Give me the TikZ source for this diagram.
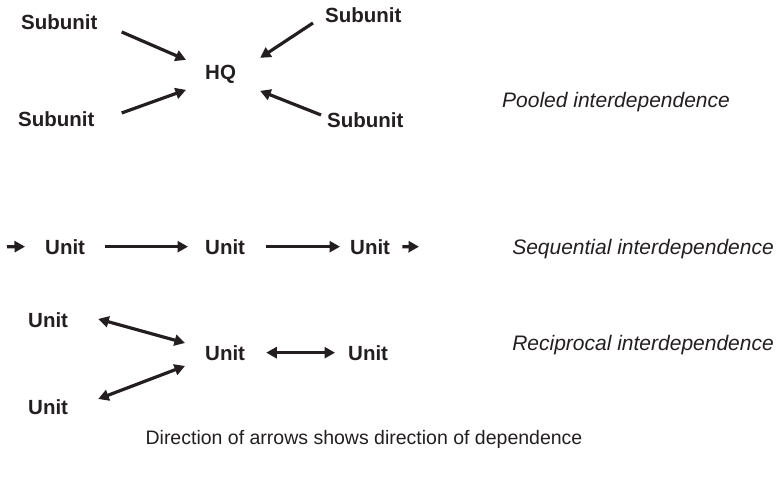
\documentclass[tikz,border=0pt]{standalone}
\usepackage{fontspec}
\setmainfont{Liberation Sans}
\usetikzlibrary{arrows.meta}
\definecolor{ink}{HTML}{231F20}
\begin{document}
\begin{tikzpicture}[x=1pt,y=-1pt,
  lbl/.style={font=\fontsize{20.5}{24}\selectfont\bfseries, text=ink, inner sep=0pt, anchor=base west},
  kind/.style={font=\fontsize{21}{25}\selectfont\itshape, text=ink, inner sep=0pt},
  tip/.tip={Triangle[length=10.5pt,width=11pt]},
  arr/.style={draw=ink, line width=3.2pt, -tip},
  darr/.style={draw=ink, line width=3.2pt, tip-tip}]
\useasboundingbox[fill=white] (0,0) rectangle (778,481);

% pooled interdependence
\node[lbl] (s1) at (21,30) {Subunit};
\node[lbl] (s2) at (325,23) {Subunit};
\node[lbl] (s3) at (18,127) {Subunit};
\node[lbl] (s4) at (327,128) {Subunit};
\node[lbl] (hq) at (205,80) {HQ};
\draw[arr] ([shift={(24,9.3)}]s1.east) -- ([shift={(-19,-15)}]hq.west);
\draw[arr] ([shift={(-12,7.3)}]s2.west) -- ([shift={(24,-17)}]hq.east);
\draw[arr] ([shift={(27,-6.7)}]s3.east) -- ([shift={(-19,15)}]hq.west);
\draw[arr] ([shift={(-6,-5.7)}]s4.west) -- ([shift={(24,16)}]hq.east);
\node[kind, anchor=base west] (pooled) at (502,107.5) {Pooled interdependence};

% sequential interdependence
\node[lbl] (u1) at (45,254) {Unit};
\node[lbl] (u2) at (205,254) {Unit};
\node[lbl] (u3) at (350,254) {Unit};
\coordinate (in) at (7,246.7);
\coordinate (out) at (419,246.7);
\draw[arr] (in) -- ([xshift=-20pt]u1.west);
\draw[arr] ([xshift=20pt]u1.east) -- ([xshift=-17pt]u2.west);
\draw[arr] ([xshift=21pt]u2.east) -- ([xshift=-10pt]u3.west);
\draw[arr] ([xshift=12pt]u3.east) -- (out);
\node[kind, anchor=base east] (seq) at (774,254) {Sequential interdependence};

% reciprocal interdependence
\node[lbl] (r1) at (28,327) {Unit};
\node[lbl] (r2) at (205,360) {Unit};
\node[lbl] (r3) at (348,360) {Unit};
\node[lbl] (r4) at (28,414) {Unit};
\draw[darr] ([shift={(30,-0.7)}]r1.east) -- ([shift={(-20,-9.7)}]r2.west);
\draw[darr] ([shift={(-20,13.3)}]r2.west) -- ([shift={(30,-7.7)}]r4.east);
\draw[darr] ([xshift=21pt]r2.east) -- ([xshift=-13pt]r3.west);
\node[kind, anchor=base east] (rec) at (774,350) {Reciprocal interdependence};

% caption
\node[font=\fontsize{19.5}{23}\selectfont, text=ink, inner sep=0pt, anchor=base] (cap) at (364,444) {Direction of arrows shows direction of dependence};
\end{tikzpicture}
\end{document}
